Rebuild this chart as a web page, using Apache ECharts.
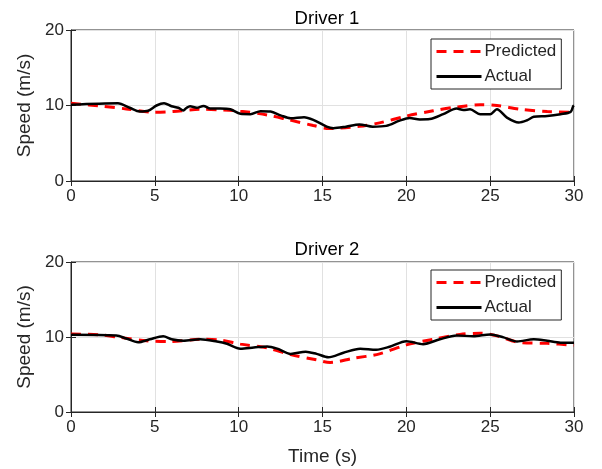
<!DOCTYPE html>
<html>
<head>
<meta charset="utf-8">
<script src="https://cdn.jsdelivr.net/npm/echarts@6/dist/echarts.min.js"></script>
<style>
  html, body { margin: 0; padding: 0; background: #fff; }
  #main { width: 602px; height: 469px; }
</style>
</head>
<body>
<div id="main"></div>
<script>
// Driver 1
var d1ActualTime = [0, 2.8, 3.5, 4.1, 4.6, 5.1, 5.55, 6.0, 6.4, 6.7, 6.9, 7.1, 7.5, 7.9, 8.3, 8.9, 9.5, 10.1, 10.7, 11.3, 11.9, 12.5, 13.1, 13.9, 14.45, 15.25, 15.65, 16.4, 17.2, 18.0, 18.8, 19.6, 20.2, 20.8, 21.4, 22.2, 23.0, 23.4, 23.8, 24.4, 25.0, 25.4, 26.0, 26.7, 27.2, 27.6, 28.4, 29.2, 29.8, 29.95, 30]
var d1Actual = [10.1, 10.3, 9.7, 9.2, 9.3, 10.0, 10.3, 9.9, 9.7, 9.35, 9.7, 9.9, 9.7, 9.95, 9.6, 9.6, 9.5, 8.9, 8.85, 9.25, 9.2, 8.7, 8.3, 8.45, 8.1, 7.2, 7.0, 7.2, 7.5, 7.2, 7.3, 8.0, 8.35, 8.15, 8.2, 8.85, 9.6, 9.4, 9.5, 8.85, 8.85, 9.5, 8.4, 7.75, 8.05, 8.5, 8.6, 8.85, 9.15, 9.9, 10.0]
var d1PredTime = [0, 1.9, 3.3, 4.9, 6.1, 7.7, 9.1, 10.1, 11.7, 13.0, 14.45, 15.4, 17.2, 18.4, 20.0, 21.6, 23.0, 24.4, 25.4, 26.8, 28.4, 30]
var d1Pred = [10.3, 9.9, 9.55, 9.1, 9.2, 9.5, 9.4, 9.25, 8.75, 8.1, 7.35, 6.95, 7.25, 7.7, 8.6, 9.3, 9.8, 10.1, 10.0, 9.5, 9.2, 9.1]

// Driver 2
var d2ActualTime = [0, 2.7, 3.3, 4.0, 4.7, 5.5, 6.0, 6.7, 7.7, 8.7, 9.3, 10.1, 10.9, 11.7, 12.3, 13.1, 14.0, 14.65, 15.35, 16.25, 17.25, 18.2, 19.0, 20.0, 21.0, 22.0, 23.0, 24.0, 25.0, 25.8, 26.6, 27.6, 28.4, 29.2, 30]
var d2Actual = [10.3, 10.2, 9.8, 9.3, 9.7, 10.1, 9.7, 9.5, 9.7, 9.4, 9.1, 8.45, 8.6, 8.75, 8.45, 7.75, 8.05, 7.75, 7.3, 7.9, 8.45, 8.3, 8.7, 9.45, 9.05, 9.7, 10.2, 10.1, 10.35, 9.95, 9.4, 9.7, 9.5, 9.25, 9.25]
var d2PredTime = [0, 1.7, 2.9, 4.5, 5.9, 7.7, 8.9, 10.1, 11.7, 13.1, 14.65, 15.45, 16.8, 18.4, 20.0, 21.6, 23.2, 24.4, 25.4, 26.8, 28.4, 30]
var d2Pred = [10.4, 10.3, 9.95, 9.5, 9.4, 9.7, 9.6, 9.05, 8.55, 7.65, 6.95, 6.6, 7.15, 7.75, 8.95, 9.7, 10.35, 10.5, 10.15, 9.25, 9.15, 8.9]

var titles = ['Driver 1', 'Driver 2']
var seriesNames = ['Predicted', 'Actual']

function pairs(t, v) {
  return t.map(function (x, i) { return [x, v[i]] })
}

var font = "'Liberation Sans', Arial, Helvetica, sans-serif"
var ink = '#262626'
var chart = echarts.init(document.getElementById('main'), null, { renderer: 'canvas' })

var grids = [
  { left: 71, top: 30, width: 503, height: 151 },
  { left: 71, top: 262, width: 503, height: 150 }
]

var xAxes = [], yAxes = []
grids.forEach(function (g, i) {
  g.show = true
  g.borderColor = ink
  g.borderWidth = 1
  g.backgroundColor = '#fff'
  xAxes.push({
    type: 'value', gridIndex: i, min: 0, max: 30, interval: 5,
    name: i === 1 ? 'Time (s)' : '', nameLocation: 'middle', nameGap: 35,
    nameTextStyle: { fontFamily: font, fontSize: 19, color: ink },
    axisLine: { lineStyle: { color: ink } },
    axisTick: { inside: true, length: 5, lineStyle: { color: ink } },
    axisLabel: { fontFamily: font, fontSize: 17, color: ink, margin: 7 },
    splitLine: { lineStyle: { color: '#e1e1e1' } }
  })
  // top edge ticks
  xAxes.push({
    type: 'value', gridIndex: i, position: 'top', min: 0, max: 30, interval: 5,
    axisLine: { show: false },
    axisTick: { inside: true, length: 5, lineStyle: { color: ink } },
    axisLabel: { show: false }, splitLine: { show: false }
  })
  yAxes.push({
    type: 'value', gridIndex: i, min: 0, max: 20, interval: 10,
    name: 'Speed (m/s)', nameLocation: 'middle', nameGap: 35,
    nameTextStyle: { fontFamily: font, fontSize: 19, color: ink },
    axisLine: { show: true, lineStyle: { color: ink } },
    axisTick: { show: true, inside: true, length: 5, lineStyle: { color: ink } },
    axisLabel: { fontFamily: font, fontSize: 17, color: ink, margin: 7 },
    splitLine: { lineStyle: { color: '#e1e1e1' } }
  })
  // right edge ticks
  yAxes.push({
    type: 'value', gridIndex: i, position: 'right', min: 0, max: 20, interval: 10,
    axisLine: { show: false },
    axisTick: { show: true, inside: true, length: 5, lineStyle: { color: ink } },
    axisLabel: { show: false }, splitLine: { show: false }
  })
})

var sets = [
  [pairs(d1PredTime, d1Pred), pairs(d1ActualTime, d1Actual)],
  [pairs(d2PredTime, d2Pred), pairs(d2ActualTime, d2Actual)]
]

var series = []
sets.forEach(function (s, i) {
  series.push({
    name: seriesNames[0], type: 'line', xAxisIndex: i * 2, yAxisIndex: i * 2,
    data: s[0], smooth: 0.3, showSymbol: false, symbol: 'none',
    lineStyle: { color: '#ff0000', width: 3, type: [10, 7] },
    itemStyle: { color: '#ff0000' }, z: 2
  })
  series.push({
    name: seriesNames[1], type: 'line', xAxisIndex: i * 2, yAxisIndex: i * 2,
    data: s[1], smooth: 0.3, showSymbol: false, symbol: 'none',
    lineStyle: { color: '#000', width: 2.5 },
    itemStyle: { color: '#000' }, z: 3
  })
})

var legends = [39, 270].map(function (top) {
  return {
    data: seriesNames, orient: 'vertical', left: 431, top: top,
    itemWidth: 45, itemHeight: 14, itemGap: 8,
    padding: [4, 5, 4, 4],
    borderColor: ink, borderWidth: 1, backgroundColor: '#fff',
    selectedMode: false,
    itemStyle: { opacity: 0 },
    lineStyle: { width: 3 },
    textStyle: { fontFamily: font, fontSize: 17, color: ink, padding: [0, 0, 0, -2] }
  }
})

chart.setOption({
  backgroundColor: '#fff',
  animation: false,
  title: titles.map(function (t, i) {
    return {
      text: t, left: 322, top: i === 0 ? 4 : 235, textAlign: 'center',
      textStyle: { fontFamily: font, fontSize: 18.5, fontWeight: 'normal', color: '#000' }
    }
  }),
  legend: legends,
  grid: grids,
  xAxis: xAxes,
  yAxis: yAxes,
  series: series
})
</script>
</body>
</html>
